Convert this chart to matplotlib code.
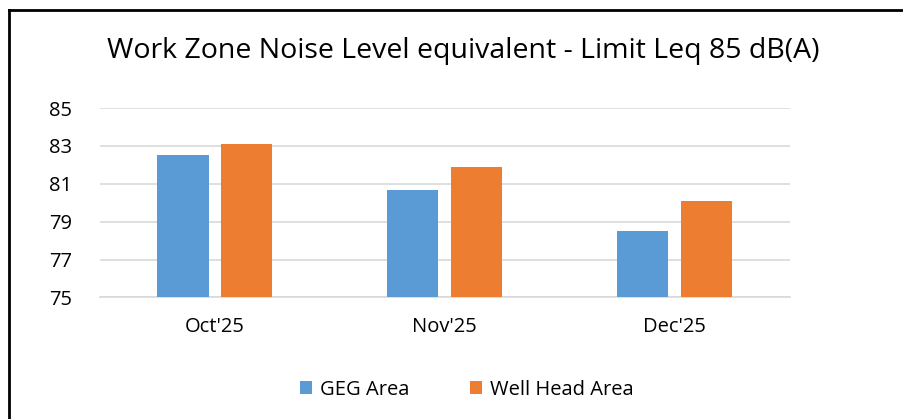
import matplotlib.pyplot as plt
from matplotlib.lines import Line2D
import numpy as np

plt.rcParams['font.family'] = ['Open Sans', 'DejaVu Sans']

months = ["Oct'25", "Nov'25", "Dec'25"]
geg_area = [82.5, 80.7, 78.5]
well_head_area = [83.1, 81.9, 80.1]

blue = '#5B9BD5'
orange = '#ED7D31'
grid_col = '#D9D9D9'

fig = plt.figure(figsize=(9.04, 4.19), dpi=100)
ax = fig.add_axes([0.1106, 0.29, 0.763, 0.452])

x = np.arange(len(months))
w = 0.222
off = 0.139
ax.bar(x - off, geg_area, w, color=blue, label='GEG Area', zorder=3)
ax.bar(x + off, well_head_area, w, color=orange, label='Well Head Area', zorder=3)

ax.set_xlim(-0.5, 2.5)
ax.set_ylim(75, 85)
ax.set_yticks(range(75, 86, 2))
ax.set_xticks(x)
ax.set_xticklabels(months)
ax.grid(axis='y', color=grid_col, linewidth=1.2, zorder=0)
for s in ['top', 'right', 'left']:
    ax.spines[s].set_visible(False)
ax.spines['bottom'].set_color(grid_col)
ax.spines['bottom'].set_linewidth(1.2)
ax.tick_params(length=0, labelsize=14.5, colors='#000000')
ax.tick_params(axis='x', pad=14)
ax.tick_params(axis='y', pad=20)

fig.text(0.512, 0.878, 'Work Zone Noise Level equivalent - Limit Leq 85 dB(A)',
         ha='center', va='center', fontsize=20.5)

fig.legend(loc='center', bbox_to_anchor=(0.516, 0.07), ncol=2, frameon=False,
           fontsize=14.5, handlelength=0.6, handleheight=0.6, handletextpad=0.4,
           columnspacing=3.0)

# outer frame (left and top edges visible)
fig.add_artist(Line2D([0.0105, 0.0105], [0, 0.977], transform=fig.transFigure,
                      color='black', linewidth=2))
fig.add_artist(Line2D([0.0105, 1], [0.977, 0.977], transform=fig.transFigure,
                      color='black', linewidth=2))

fig.savefig('out.png', dpi=100)
